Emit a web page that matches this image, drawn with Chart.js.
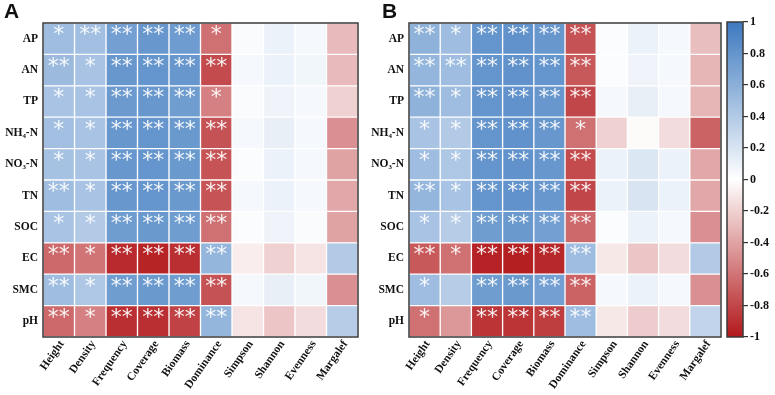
<!DOCTYPE html>
<html>
<head>
<meta charset="utf-8">
<script src="https://cdn.jsdelivr.net/npm/chart.js@4"></script>
<style>
  body { margin: 0; background: #fff; }
  #wrap { position: relative; width: 775px; height: 395px; }
  canvas { position: absolute; top: 0; }
  .tag { position: absolute; font: bold 21px "Liberation Sans", Arial, sans-serif; color: #111; }
</style>
</head>
<body>
<div id="wrap">
  <canvas id="chartA" width="362" height="395" style="left:0"></canvas>
  <canvas id="chartB" width="363" height="395" style="left:362px"></canvas>
  <canvas id="bar" width="50" height="395" style="left:725px"></canvas>
  <div class="tag" style="left:4px;top:-1px">A</div>
  <div class="tag" style="left:382px;top:-1px">B</div>
</div>
<script>
const rows = ['AP', 'AN', 'TP', 'NH₄-N', 'NO₃-N', 'TN', 'SOC', 'EC', 'SMC', 'pH'];
const cols = ['Height', 'Density', 'Frequency', 'Coverage', 'Biomass', 'Dominance', 'Simpson', 'Shannon', 'Evenness', 'Margalef'];
const barTicks = [1, 0.8, 0.6, 0.4, 0.2, 0, -0.2, -0.4, -0.6, -0.8, -1];

// correlation coefficients, one row per soil factor
const valuesA = [
  [0.50, 0.48, 0.72, 0.78, 0.75, -0.62, 0.03, 0.10, 0.05, -0.30],
  [0.52, 0.45, 0.78, 0.80, 0.78, -0.78, 0.05, 0.10, 0.07, -0.30],
  [0.45, 0.45, 0.76, 0.78, 0.74, -0.55, 0.03, 0.08, 0.05, -0.20],
  [0.48, 0.45, 0.78, 0.80, 0.77, -0.75, 0.05, 0.12, 0.05, -0.48],
  [0.46, 0.45, 0.78, 0.80, 0.77, -0.74, 0.02, 0.10, 0.05, -0.40],
  [0.50, 0.45, 0.78, 0.80, 0.77, -0.74, 0.05, 0.10, 0.05, -0.38],
  [0.45, 0.40, 0.74, 0.77, 0.74, -0.62, 0.02, 0.08, 0.03, -0.40],
  [-0.65, -0.60, -0.92, -0.95, -0.90, 0.55, -0.08, -0.20, -0.12, 0.40],
  [0.50, 0.42, 0.74, 0.77, 0.74, -0.75, 0.05, 0.12, 0.07, -0.48],
  [-0.65, -0.55, -0.90, -0.90, -0.82, 0.55, -0.12, -0.25, -0.15, 0.38]
];
const valuesB = [
  [0.58, 0.50, 0.80, 0.82, 0.78, -0.75, 0.02, 0.10, 0.05, -0.28],
  [0.55, 0.50, 0.80, 0.82, 0.80, -0.72, 0.02, 0.08, 0.05, -0.32],
  [0.58, 0.50, 0.80, 0.82, 0.78, -0.80, 0.05, 0.12, 0.05, -0.32],
  [0.45, 0.40, 0.80, 0.82, 0.78, -0.62, -0.20, -0.02, -0.15, -0.68],
  [0.50, 0.42, 0.80, 0.82, 0.78, -0.78, 0.10, 0.18, 0.10, -0.38],
  [0.55, 0.45, 0.80, 0.82, 0.78, -0.80, 0.10, 0.20, 0.10, -0.38],
  [0.45, 0.38, 0.74, 0.77, 0.72, -0.65, 0.02, 0.10, 0.05, -0.48],
  [-0.72, -0.62, -0.96, -0.97, -0.93, 0.50, -0.10, -0.25, -0.15, 0.40],
  [0.50, 0.38, 0.74, 0.77, 0.72, -0.68, 0.05, 0.10, 0.05, -0.48],
  [-0.62, -0.45, -0.88, -0.88, -0.84, 0.50, -0.10, -0.22, -0.15, 0.32]
];
// significance: 0 none, 1 = *, 2 = **
const starsA = [
  [1, 2, 2, 2, 2, 1, 0, 0, 0, 0],
  [2, 1, 2, 2, 2, 2, 0, 0, 0, 0],
  [1, 1, 2, 2, 2, 1, 0, 0, 0, 0],
  [1, 1, 2, 2, 2, 2, 0, 0, 0, 0],
  [1, 1, 2, 2, 2, 2, 0, 0, 0, 0],
  [2, 1, 2, 2, 2, 2, 0, 0, 0, 0],
  [1, 1, 2, 2, 2, 2, 0, 0, 0, 0],
  [2, 1, 2, 2, 2, 2, 0, 0, 0, 0],
  [2, 1, 2, 2, 2, 2, 0, 0, 0, 0],
  [2, 1, 2, 2, 2, 2, 0, 0, 0, 0]
];
const starsB = [
  [2, 1, 2, 2, 2, 2, 0, 0, 0, 0],
  [2, 2, 2, 2, 2, 2, 0, 0, 0, 0],
  [2, 1, 2, 2, 2, 2, 0, 0, 0, 0],
  [1, 1, 2, 2, 2, 1, 0, 0, 0, 0],
  [1, 1, 2, 2, 2, 2, 0, 0, 0, 0],
  [2, 1, 2, 2, 2, 2, 0, 0, 0, 0],
  [1, 1, 2, 2, 2, 2, 0, 0, 0, 0],
  [2, 1, 2, 2, 2, 2, 0, 0, 0, 0],
  [1, 0, 2, 2, 2, 2, 0, 0, 0, 0],
  [1, 0, 2, 2, 2, 2, 0, 0, 0, 0]
];

const BLUE = [62, 122, 192];
const RED = [178, 24, 27];
function colorFor(v) {
  const end = v >= 0 ? BLUE : RED;
  const t = Math.min(Math.abs(v), 1);
  const c = end.map(e => Math.round(255 + (e - 255) * t));
  return `rgb(${c[0]},${c[1]},${c[2]})`;
}

const serif = '"Liberation Serif", "Times New Roman", serif';

const frame = {
  id: 'frame',
  afterDatasetsDraw(chart) {
    const { ctx, chartArea: a } = chart;
    ctx.save();
    ctx.strokeStyle = '#3a3a3a';
    ctx.lineWidth = 1.5;
    ctx.strokeRect(a.left, a.top, a.right - a.left, a.bottom - a.top);
    ctx.restore();
  }
};

const starLayer = {
  id: 'stars',
  afterDatasetsDraw(chart, args, opts) {
    const { ctx, scales } = chart;
    ctx.save();
    ctx.fillStyle = 'rgba(255,255,255,0.92)';
    ctx.font = '22px "DejaVu Sans", sans-serif';
    ctx.textAlign = 'center';
    ctx.textBaseline = 'middle';
    opts.marks.forEach((r, ri) => r.forEach((s, ci) => {
      if (!s) return;
      const x = scales.x.getPixelForValue(ci + 0.5);
      const y = scales.y.getPixelForValue(ri);
      ctx.fillText(s === 2 ? '**' : '*', x, y - 3);
    }));
    ctx.restore();
  }
};

function heatmap(id, values, marks, yWidth) {
  new Chart(document.getElementById(id), {
    type: 'bar',
    data: {
      labels: rows,
      datasets: cols.map((c, ci) => ({
        label: c,
        data: rows.map(() => 1),
        backgroundColor: values.map(r => colorFor(r[ci])),
        borderColor: '#ffffff',
        borderWidth: 1,
        borderSkipped: false,
        barPercentage: 1,
        categoryPercentage: 1
      }))
    },
    options: {
      indexAxis: 'y',
      responsive: false,
      animation: false,
      layout: { padding: { top: 23, right: 4 } },
      plugins: { legend: { display: false }, tooltip: { enabled: false }, stars: { marks } },
      scales: {
        x: {
          type: 'linear', stacked: true, min: 0, max: 10,
          afterBuildTicks: ax => { ax.ticks = cols.map((c, i) => ({ value: i + 0.6 })); },
          afterFit: ax => { ax.height = 58; },
          grid: { display: false, drawTicks: false },
          border: { display: false },
          ticks: {
            autoSkip: false, minRotation: 55, maxRotation: 55, padding: 1,
            color: '#111', font: { family: serif, weight: 'bold', size: 11.5 },
            callback: (v, i) => cols[i]
          }
        },
        y: {
          stacked: true,
          afterFit: ax => { ax.width = yWidth; },
          grid: { display: false, drawTicks: false },
          border: { display: false },
          ticks: { padding: 5, color: '#111', font: { family: serif, weight: 'bold', size: 11.5 } }
        }
      }
    },
    plugins: [starLayer, frame]
  });
}

heatmap('chartA', valuesA, starsA, 43);
heatmap('chartB', valuesB, starsB, 47);

new Chart(document.getElementById('bar'), {
  type: 'bar',
  data: {
    labels: [''],
    datasets: [{
      data: [[-1, 1]],
      barPercentage: 1,
      categoryPercentage: 1,
      backgroundColor: ctx => {
        const a = ctx.chart.chartArea;
        if (!a) return '#fff';
        const g = ctx.chart.ctx.createLinearGradient(0, a.bottom, 0, a.top);
        for (let i = 0; i <= 20; i++) g.addColorStop(i / 20, colorFor(-1 + i / 10));
        return g;
      }
    }]
  },
  options: {
    responsive: false,
    animation: false,
    layout: { padding: { top: 22, left: 2, bottom: 58 } },
    plugins: { legend: { display: false }, tooltip: { enabled: false } },
    scales: {
      x: { display: false },
      y: {
        position: 'right', min: -1, max: 1,
        afterBuildTicks: ax => { ax.ticks = barTicks.map(v => ({ value: v })); },
        afterFit: ax => { ax.width = 32; },
        grid: { drawOnChartArea: false, tickLength: 5, color: '#333', lineWidth: 1.2 },
        border: { display: false },
        ticks: {
          padding: 2, color: '#111', font: { family: serif, weight: 'bold', size: 12 },
          callback: v => String(Math.round(v * 10) / 10)
        }
      }
    }
  },
  plugins: [frame]
});
</script>
</body>
</html>
